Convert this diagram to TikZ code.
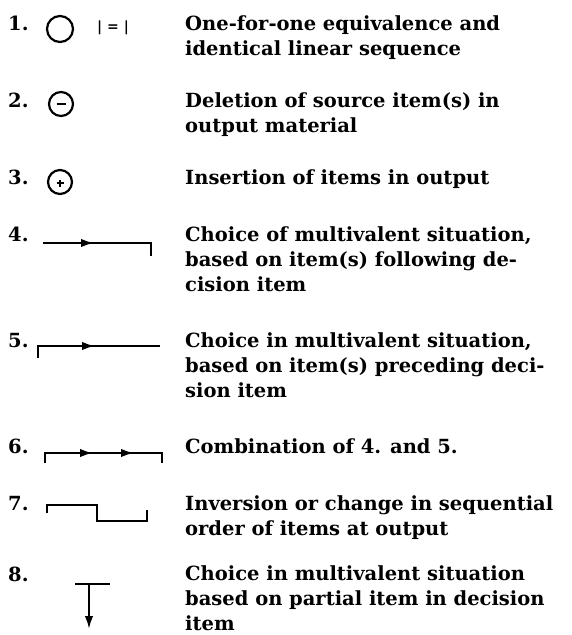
\documentclass[tikz,border=0pt]{standalone}
\usepackage{fontspec}
\setmainfont{DejaVu Serif}
\usetikzlibrary{arrows.meta}

\tikzset{
  numtxt/.style={anchor=base west, inner sep=0pt, font=\bfseries\fontsize{19.5}{25}\selectfont},
  % anchor sits on the baseline of the last line
  desc/.style={anchor=base west, inner sep=0pt, align=left, font=\bfseries\fontsize{19.5}{25}\selectfont},
  symb/.style={line width=2.2pt},
  tipped/.style={symb, -{Latex[length=13pt,width=8.5pt]}},
}

\begin{document}
\begin{tikzpicture}[x=1pt,y=-1pt]
  \useasboundingbox (0,0) rectangle (571,635);

  % item numbers
  \foreach \n/\y in {1/30,2/107,3/184,4/241,5/347,6/453,7/510,8/581}
    \node[numtxt] (n\n) at (8,\y) {\n.};

  % descriptions
  \node[desc] (d1) at (185,55) {One-for-one equivalence and\\identical linear sequence};
  \node[desc] (d2) at (185,132) {Deletion of source item(s) in\\output material};
  \node[desc] (d3) at (185,184) {Insertion of items in output};
  \node[desc] (d4) at (185,291) {Choice of multivalent situation,\\based on item(s) following de-\\cision item};
  \node[desc] (d5) at (185,397) {Choice in multivalent situation,\\based on item(s) preceding deci-\\sion item};
  \node[desc] (d6) at (185,453) {Combination of 4. and 5.};
  \node[desc] (d7) at (185,535) {Inversion or change in sequential\\order of items at output};
  \node[desc] (d8) at (185,630) {Choice in multivalent situation\\based on partial item in decision\\item};

  % 1
  \draw[symb] (60,29) circle (13);
  \node[inner sep=0pt, font=\bfseries\fontsize{14}{14}\selectfont] (eq) at (113,28) {|\hspace{5pt}=\hspace{5pt}|};

  % 2
  \draw[symb] (61,104) circle (12);
  \draw[symb] (56.5,104) -- (65.5,104);

  % 3
  \draw[symb] (60,182) circle (12);
  \draw[line width=1.8pt] (56.5,183) -- (63.5,183) (60,179.5) -- (60,186.5);

  % 4
  \draw[symb] (43,243) -- (151,243) -- (151,256);
  \draw[tipped] (60,243) -- (94,243);

  % 5
  \draw[symb] (38,358) -- (38,346) -- (160,346);
  \draw[tipped] (60,346) -- (95,346);

  % 6
  \draw[symb] (45,463) -- (45,453) -- (162,453) -- (162,463);
  \draw[tipped] (60,453) -- (93,453);
  \draw[tipped] (100,453) -- (134,453);

  % 7
  \draw[symb] (47,513) -- (47,505) -- (97,505) -- (97,521) -- (147,521) -- (147,510);

  % 8
  \draw[symb] (75,584) -- (110,584);
  \draw[tipped] (89,584) -- (89,629);
\end{tikzpicture}
\end{document}
